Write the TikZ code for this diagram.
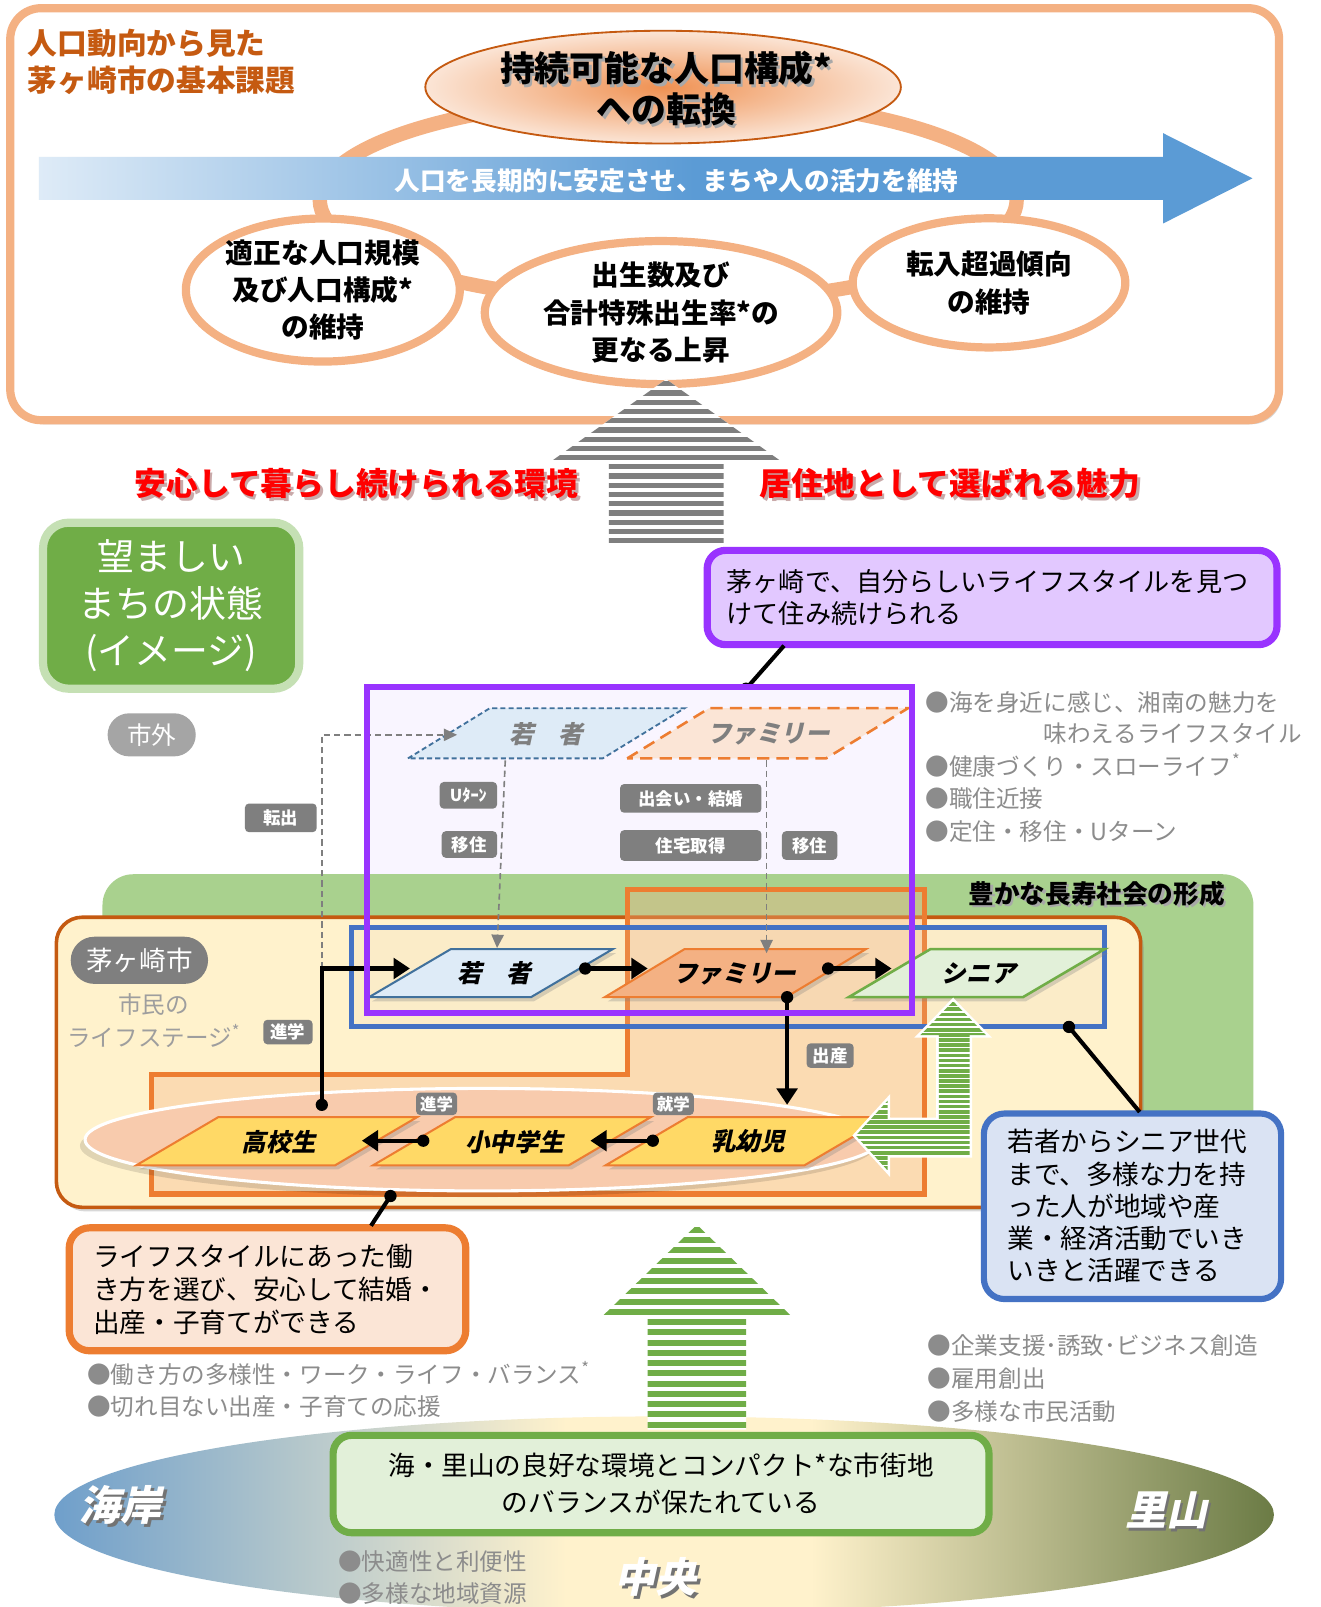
\documentclass[tikz,border=0pt]{standalone}
\usepackage{fontspec}
\setmainfont{Noto Sans CJK JP}
\newfontfamily\slfont{Noto Sans CJK JP}[FakeSlant=0.22]
\usetikzlibrary{arrows.meta,shadows,shapes.geometric}
\newcommand\fsz[2]{\fontsize{#1}{#2}\selectfont}
\newcommand\shtext[2]{\makebox[0pt][l]{\hspace{2.5pt}\raisebox{-2.5pt}{\color{#1}#2}}#2}
\definecolor{orL}{HTML}{F4B183}
\definecolor{orD}{HTML}{C55A11}
\definecolor{orM}{HTML}{ED7D31}
\definecolor{orP}{HTML}{FBE5D6}
\definecolor{blA}{HTML}{5B9BD5}
\definecolor{blB}{HTML}{4472C4}
\definecolor{blP}{HTML}{DEEBF7}
\definecolor{blE}{HTML}{DAE3F3}
\definecolor{blD}{HTML}{41719C}
\definecolor{grA}{HTML}{70AD47}
\definecolor{grL}{HTML}{A9D18E}
\definecolor{grP}{HTML}{E2F0D9}
\definecolor{grB}{HTML}{C5E0B4}
\definecolor{purA}{HTML}{9933FF}
\definecolor{purP}{HTML}{E2C8FF}
\definecolor{purBg}{HTML}{F9F5FF}
\definecolor{yel}{HTML}{FFF2CC}
\definecolor{gold}{HTML}{FFD966}
\definecolor{salm}{HTML}{F8CBAD}
\definecolor{gry}{HTML}{7F7F7F}
\definecolor{txg}{HTML}{8C8C8C}
\definecolor{landL}{HTML}{6F9FCB}
\definecolor{landR}{HTML}{6B7B45}
\definecolor{orC}{HTML}{EF9152}
\definecolor{shG}{HTML}{A8A8A8}
\definecolor{shR}{HTML}{C9A9A9}
\pgfdeclarehorizontalshading{landsh}{100bp}{color(0bp)=(landL); color(25bp)=(landL); color(46bp)=(yel); color(56bp)=(yel); color(75bp)=(landR); color(100bp)=(landR)}
\pgfdeclarehorizontalshading{arrsh}{100bp}{color(0bp)=(blP); color(25bp)=(blP); color(52bp)=(blA); color(100bp)=(blA)}
\begin{document}
\begin{tikzpicture}[x=1pt,y=-1pt,
  shd/.style={drop shadow={opacity=0.3,shadow xshift=3pt,shadow yshift=-4pt}},
  glab/.style={fill=gry, rounded corners=4, text=white, font=\bfseries\fsz{17}{17}, inner sep=0pt},
  pill/.style={fill=#1, text=white, inner sep=0pt},
  bul/.style={anchor=west, text=txg, font=\fsz{23}{23}, inner sep=0pt},
  circ/.style={ellipse, draw=orL, line width=8, fill=white, align=center, inner sep=0pt, font=\bfseries\fsz{27}{36.5}},
  stage/.style={font=\slfont\bfseries\fsz{24}{24}, inner sep=0pt},
  land/.style={font=\slfont\bfseries\fsz{40}{40}, text=white, inner sep=0pt},
  blk/.style={line width=4, -{Triangle[length=16,width=20]}},
  gdash/.style={gry, dash pattern=on 6pt off 4pt, line width=1.6, -{Triangle[length=13,width=12]}},
  conn/.style={line width=4}
]
\useasboundingbox (0,0) rectangle (1288,1568);
\fill[white] (0,0) rectangle (1288,1568);

%% ---------------- top box
\draw[orL, line width=8, fill=white, rounded corners=30, shd] (10,8) rectangle (1248,410);
\node[text=orD, font=\bfseries\fsz{29}{36}, align=left, anchor=west, inner sep=0pt] (title) at (27,60) {人口動向から見た\\茅ヶ崎市の基本課題};

\draw[orL, line width=14] (652,195) ellipse [x radius=340, y radius=100];

\shade[inner color=orC, outer color=orP] (647,85) ellipse [x radius=232, y radius=55];
\draw[orD, line width=1.8] (647,85) ellipse [x radius=232, y radius=55];
\node[font=\bfseries\fsz{34}{40}, align=center] (topgoal) at (650,88) {\shtext{shG}{持続可能な人口構成*}\\\shtext{shG}{への転換}};

\shade[shading=arrsh] (38,153) -- (1135,153) -- (1135,130) -- (1222,174) -- (1135,218) -- (1135,195) -- (38,195) -- cycle;
\node[text=white, font=\bfseries\fsz{25}{25}] (arrtext) at (660,176) {人口を長期的に安定させ、まちや人の活力を維持};

\node[circ, minimum width=266, minimum height=130] (c1) at (315,283) {適正な人口規模\\及び人口構成*\\の維持};
\node[circ, minimum width=344, minimum height=126] (c2) at (645,305) {出生数及び\\合計特殊出生率*の\\更なる上昇};
\node[circ, minimum width=266, minimum height=126] (c3) at (965,276) {転入超過傾向\\の維持};

%% ---------------- gray striped arrow
\begin{scope}
\clip (650,370) -- (762,450) -- (706,450) -- (706,530) -- (594,530) -- (594,450) -- (538,450) -- cycle;
\fill[white] (530,365) rectangle (770,535);
\foreach \k in {0,...,17} \fill[gry] (530,{372+9*\k}) rectangle (770,{377+9*\k});
\end{scope}

%% ---------------- red texts
\node[text=red, font=\bfseries\fsz{31}{31}, anchor=east] (env) at (568,473) {\shtext{shR}{安心して暮らし続けられる環境}};
\node[text=red, font=\bfseries\fsz{31}{31}, anchor=west] (attr) at (738,473) {\shtext{shR}{居住地として選ばれる魅力}};

%% ---------------- left green title box
\node[draw=grB, line width=8, fill=grA, rounded corners=25, minimum width=250, minimum height=162, text=white, align=center, font=\fsz{36}{46}, inner sep=0pt] (state) at (167,591) {望ましい\\まちの状態\\(イメージ)};
\node[pill=gry!70, rounded corners=21, minimum width=86, minimum height=42, font=\fsz{24}{24}] (outside) at (148,717) {市外};

%% ---------------- purple callout
\node[draw=purA, line width=7, fill=purP, rounded corners=18, minimum width=556, minimum height=92, text width=518, align=left, font=\fsz{25.5}{31}, inner sep=0pt] (callP) at (968,583) {茅ヶ崎で、自分らしいライフスタイルを見つ\\けて住み続けられる};
\coordinate (pc1) at (765,630);
\coordinate (pdot) at (728,672);
\draw[conn] (pc1) -- (pdot);
\fill (pdot) circle (6);

%% ---------------- purple area fill
\fill[purBg] (358,670) rectangle (890,988);

%% ---------------- green region
\fill[grL, rounded corners=30] (100,853) rectangle (1223,1180);
\node[font=\bfseries\fsz{25}{25}] (longev) at (1070,873) {\shtext{shG}{豊かな長寿社会の形成}};

%% ---------------- city box
\draw[orD, line width=3.5, fill=yel, rounded corners=25, shd] (55,895) rectangle (1113,1178);
\draw[orM, line width=5, fill=orL, fill opacity=0.35] (612,868) -- (902,868) -- (902,1165) -- (148,1165) -- (148,1048) -- (612,1048) -- cycle;
\draw[blB, line width=5, fill=brown!40, fill opacity=0.15] (343,905) rectangle (1078,1002);

\node[pill=gry, rounded corners=23, minimum width=134, minimum height=46, font=\fsz{26}{26}] (city) at (136,937) {茅ヶ崎市};
\node[text=black!38, align=center, font=\fsz{23}{32}, inner sep=0pt] (lifest) at (150,996) {市民の\\ライフステージ\textsuperscript{*}};

%% ---------------- dashed parallelograms (outside)
\draw[blD, dash pattern=on 5pt off 3pt, line width=1.8, fill=blP] (398,740) -- (478,691) -- (668,691) -- (588,740) -- cycle;
\draw[orM, dash pattern=on 12pt off 7pt, line width=2.5, fill=orP] (612,740) -- (692,691) -- (886,691) -- (806,740) -- cycle;
\node[stage, text=gry] (ywO) at (533,716) {若　者};
\node[stage, text=gry] (fmO) at (750,716) {ファミリー};

%% ---------------- gray labels
\node[glab, minimum width=56, minimum height=26, font=\bfseries\fsz{16}{16}] (uturn) at (457,776) {Uﾀｰﾝ};
\node[glab, minimum width=54, minimum height=26] (mig1) at (458,824) {移住};
\node[glab, minimum width=138, minimum height=28] (meet) at (674,779) {出会い・結婚};
\node[glab, minimum width=138, minimum height=30] (house) at (674,825) {住宅取得};
\node[glab, minimum width=54, minimum height=28] (mig2) at (790,825) {移住};
\node[glab, minimum width=70, minimum height=28] (tensh) at (274,798) {転出};
\node[glab, minimum width=48, minimum height=24] (adv1) at (281,1007) {進学};
\node[glab, minimum width=46, minimum height=24] (birth) at (810,1030) {出産};

%% ---------------- life-stage ellipse (children)
\fill[black, opacity=0.12] (466,1118) ellipse [x radius=388, y radius=50];
\draw[white, line width=3, fill=salm] (471,1112) ellipse [x radius=388, y radius=50];
\node[glab, minimum width=40, minimum height=22, font=\bfseries\fsz{16}{16}] (adv2) at (426,1077) {進学};
\node[glab, minimum width=40, minimum height=22, font=\bfseries\fsz{16}{16}] (enter) at (657,1077) {就学};

%% ---------------- solid parallelograms
\draw[blD, line width=2, fill=blP, shd] (360,973) -- (440,926) -- (598,926) -- (518,973) -- cycle;
\draw[orM, line width=2, fill=orL, shd] (590,973) -- (668,926) -- (845,926) -- (767,973) -- cycle;
\draw[grA, line width=2.5, fill=grP, shd] (828,973) -- (908,926) -- (1078,926) -- (998,973) -- cycle;
\node[stage] (yw) at (482,950) {若　者};
\node[stage] (fm) at (717,950) {ファミリー};
\node[stage] (sn) at (955,950) {シニア};

\draw[orM, line width=2, fill=gold, shd] (133,1137) -- (213,1090) -- (407,1090) -- (327,1137) -- cycle;
\draw[orM, line width=2, fill=gold, shd] (364,1137) -- (444,1090) -- (635,1090) -- (555,1137) -- cycle;
\draw[orM, line width=2, fill=gold, shd] (591,1137) -- (671,1090) -- (865,1090) -- (785,1137) -- cycle;
\node[stage] (hs) at (272,1114) {高校生};
\node[stage] (es) at (502,1114) {小中学生};
\node[stage] (inf) at (730,1114) {乳幼児};

%% ---------------- dashed connectors
\coordinate (ywb) at (493,742);
\coordinate (ywt) at (485,925);
\coordinate (fmb) at (748,742);
\coordinate (fmt) at (748,930);
\coordinate (outA) at (314,945);
\coordinate (outB) at (314,717);
\coordinate (outC) at (446,717);
\draw[gdash] (ywb) -- (ywt);
\draw[gdash] (fmb) -- (fmt);
\draw[gdash] (outA) -- (outB) -- (outC);

%% ---------------- black arrows
\coordinate (d1) at (571,945);  \coordinate (t1) at (632,945);
\coordinate (d2) at (808,945);  \coordinate (t2) at (870,945);
\coordinate (d3) at (314,1078); \coordinate (m3) at (314,945); \coordinate (t3) at (400,945);
\coordinate (d4) at (768,973);  \coordinate (t4) at (768,1078);
\coordinate (d5) at (413,1113); \coordinate (t5) at (353,1113);
\coordinate (d6) at (637,1113); \coordinate (t6) at (576,1113);
\draw[blk] (d1) -- (t1);
\draw[blk] (d2) -- (t2);
\draw[line width=4, -{Triangle[length=16,width=20]}] (d3) -- (m3) -- (t3);
\draw[blk] (d4) -- (t4);
\draw[blk] (d5) -- (t5);
\draw[blk] (d6) -- (t6);
\foreach \p in {d1,d2,d3,d4,d5,d6} \fill (\p) circle (6);

%% ---------------- small green bent arrow
\def\bentpath{(930,977) -- (962,1010) -- (946,1010) -- (946,1127) -- (866,1127) -- (866,1142) -- (835,1108) -- (866,1074) -- (866,1093) -- (916,1093) -- (916,1010) -- (898,1010) -- cycle}
\draw[white, line width=5, fill=white] \bentpath;
\begin{scope}
\clip \bentpath;
\foreach \k in {0,...,33} \fill[grA] (830,{978+5*\k}) rectangle (965,{981.5+5*\k});
\end{scope}

%% ---------------- purple border on top
\draw[purA, line width=6] (358,670) rectangle (890,988);

%% ---------------- right bullets
\node[bul] (b1) at (903,685) {●海を身近に感じ、湘南の魅力を};
\node[bul] (b1b) at (1018,716) {味わえるライフスタイル};
\node[bul] (b2) at (903,747) {●健康づくり・スローライフ\textsuperscript{*}};
\node[bul] (b3) at (903,779) {●職住近接};
\node[bul] (b4) at (903,811) {●定住・移住・Uターン};

%% ---------------- blue callout
\node[draw=blB, line width=6, fill=blE, rounded corners=20, minimum width=290, minimum height=181, text width=244, align=left, font=\fsz{26}{31.5}, inner sep=0pt] (callB) at (1105,1177) {若者からシニア世代\\まで、多様な力を持\\った人が地域や産\\業・経済活動でいき\\いきと活躍できる};
\coordinate (bc1) at (1112,1085);
\coordinate (bdot) at (1043,1002);
\draw[conn] (bc1) -- (bdot);
\fill (bdot) circle (6);

%% ---------------- orange callout
\node[draw=orM, line width=7, fill=orP, rounded corners=20, minimum width=387, minimum height=120, text width=340, align=left, font=\fsz{26}{32}, inner sep=0pt] (callO) at (261,1258) {ライフスタイルにあった働\\き方を選び、安心して結婚・\\出産・子育てができる};
\coordinate (oc1) at (362,1196);
\coordinate (odot) at (381,1167);
\draw[conn] (oc1) -- (odot);
\fill (odot) circle (6);

\node[bul] (b5) at (85,1340) {●働き方の多様性・ワーク・ライフ・バランス\textsuperscript{*}};
\node[bul] (b6) at (85,1372) {●切れ目ない出産・子育ての応援};
\node[bul] (b7) at (905,1313) {●企業支援･誘致･ビジネス創造};
\node[bul] (b8) at (905,1345) {●雇用創出};
\node[bul] (b9) at (905,1377) {●多様な市民活動};

%% ---------------- bottom land ellipse
\shade[shading=landsh] (648,1478) ellipse [x radius=595, y radius=96];

%% ---------------- big green striped arrow
\begin{scope}
\clip (680,1195) -- (773,1285) -- (728,1285) -- (728,1395) -- (632,1395) -- (632,1285) -- (587,1285) -- cycle;
\fill[white] (580,1190) rectangle (780,1400);
\foreach \k in {0,...,20} \fill[grA] (580,{1197+10*\k}) rectangle (780,{1203+10*\k});
\end{scope}

\node[draw=grA, line width=7, fill=grP, rounded corners=18, minimum width=640, minimum height=95, align=center, font=\fsz{26}{36}, inner sep=0pt] (balance) at (645,1448) {海・里山の良好な環境とコンパクト*な市街地\\のバランスが保たれている};

\node[bul] (b10) at (330,1524) {●快適性と利便性};
\node[bul] (b11) at (330,1555) {●多様な地域資源};

\node[land] (coast) at (118,1470) {\shtext{black!55}{海岸}};
\node[land] (sato) at (1138,1475) {\shtext{black!55}{里山}};
\node[land] (cent) at (640,1540) {\shtext{black!55}{中央}};
\end{tikzpicture}
\end{document}
